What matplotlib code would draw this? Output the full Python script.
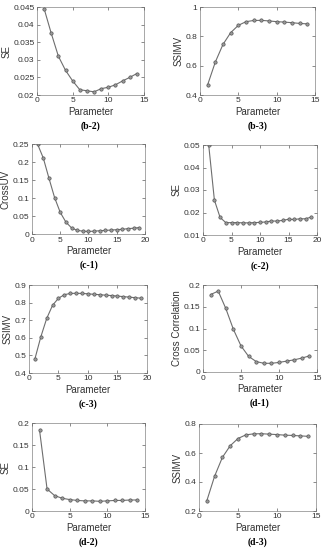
import numpy as np
import matplotlib.pyplot as plt

plt.rcParams['font.family'] = ['Liberation Sans', 'DejaVu Sans']

# values
x14 = list(range(1, 15))
x19 = list(range(1, 20))

se_b2 = [0.0445, 0.0375, 0.031, 0.027, 0.024, 0.0215, 0.0212, 0.0209,
         0.0218, 0.0222, 0.0229, 0.0240, 0.0250, 0.0261]
ssimv_b3 = [0.47, 0.625, 0.745, 0.825, 0.875, 0.900, 0.908, 0.909,
            0.905, 0.900, 0.897, 0.893, 0.888, 0.885]
crossuv_c1 = [0.249, 0.211, 0.155, 0.101, 0.060, 0.033, 0.017, 0.010, 0.008,
              0.007, 0.008, 0.009, 0.010, 0.011, 0.012, 0.013, 0.015, 0.016, 0.018]
se_c2 = [0.0500, 0.0255, 0.0178, 0.0155, 0.0155, 0.0155, 0.0154, 0.0154, 0.0155,
         0.0156, 0.0158, 0.0162, 0.0162, 0.0165, 0.0170, 0.0169, 0.0172, 0.0172, 0.0180]
ssimv_c3 = [0.48, 0.605, 0.71, 0.785, 0.825, 0.845, 0.852, 0.853, 0.852, 0.850,
            0.847, 0.845, 0.842, 0.840, 0.837, 0.834, 0.831, 0.828, 0.825]
cc_d1 = [0.178, 0.186, 0.146, 0.098, 0.060, 0.036, 0.024, 0.020,
         0.020, 0.022, 0.025, 0.028, 0.032, 0.037]
se_d2 = [0.184, 0.050, 0.035, 0.029, 0.026, 0.024, 0.023, 0.023,
         0.022, 0.023, 0.024, 0.024, 0.025, 0.025]
ssimv_d3 = [0.27, 0.44, 0.57, 0.65, 0.70, 0.725, 0.732, 0.733,
            0.730, 0.727, 0.723, 0.721, 0.718, 0.715]

W, H = 328, 550

# (x, y, ylabel, tag, xlim, xticks, ylim, yticks, yticklabels, box in px: left, top, right, bottom)
panels = [
    (x14, se_b2, 'SE', '(b-2)', (0, 15), [0, 5, 10, 15], (0.02, 0.045),
     [0.02, 0.025, 0.03, 0.035, 0.04, 0.045],
     ['0.02', '0.025', '0.03', '0.035', '0.04', '0.045'], (37, 7, 144, 95)),
    (x14, ssimv_b3, 'SSIMV', '(b-3)', (0, 15), [0, 5, 10, 15], (0.4, 1.0),
     [0.4, 0.6, 0.8, 1.0], ['0.4', '0.6', '0.8', '1'], (200, 7, 315, 95)),
    (x19, crossuv_c1, 'CrossUV', '(c-1)', (0, 20), [0, 5, 10, 15, 20], (0, 0.25),
     [0, 0.05, 0.1, 0.15, 0.2, 0.25], ['0', '0.05', '0.1', '0.15', '0.2', '0.25'],
     (32, 144, 145, 234)),
    (x19, se_c2, 'SE', '(c-2)', (0, 20), [0, 5, 10, 15, 20], (0.01, 0.05),
     [0.01, 0.02, 0.03, 0.04, 0.05], ['0.01', '0.02', '0.03', '0.04', '0.05'],
     (203, 145, 317, 235)),
    (x19, ssimv_c3, 'SSIMV', '(c-3)', (0, 20), [0, 5, 10, 15, 20], (0.4, 0.9),
     [0.4, 0.5, 0.6, 0.7, 0.8, 0.9], ['0.4', '0.5', '0.6', '0.7', '0.8', '0.9'],
     (29, 285, 147, 373)),
    (x14, cc_d1, 'Cross Correlation', '(d-1)', (0, 15), [0, 5, 10, 15], (0, 0.2),
     [0, 0.05, 0.1, 0.15, 0.2], ['0', '0.05', '0.1', '0.15', '0.2'],
     (203, 285, 317, 372)),
    (x14, se_d2, 'SE', '(d-2)', (0, 15), [0, 5, 10, 15], (0, 0.2),
     [0, 0.05, 0.1, 0.15, 0.2], ['0', '0.05', '0.1', '0.15', '0.2'],
     (32, 423, 145, 511)),
    (x14, ssimv_d3, 'SSIMV', '(d-3)', (0, 15), [0, 5, 10, 15], (0.2, 0.8),
     [0.2, 0.4, 0.6, 0.8], ['0.2', '0.4', '0.6', '0.8'], (199, 424, 316, 511)),
]

fig = plt.figure(figsize=(W / 100, H / 100), dpi=100)
fig.patch.set_facecolor('white')

for x, y, ylab, tag, xlim, xt, ylim, yt, ytl, box in panels:
    l, t, r, b = box
    ax = fig.add_axes([l / W, 1 - b / H, (r - l) / W, (b - t) / H])
    ax.plot(x, y, '-o', color='#6e6e6e', lw=0.8, ms=2.4,
            mfc='#9a9a9a', mec='#555555', mew=0.5)
    ax.set_xlim(*xlim)
    ax.set_ylim(*ylim)
    ax.set_xticks(xt)
    ax.set_yticks(yt)
    ax.set_yticklabels(ytl)
    ax.tick_params(direction='in', length=2, width=0.4, labelsize=6,
                   top=True, right=True, pad=1.8, colors='#333333')
    for s in ax.spines.values():
        s.set_linewidth(0.4)
        s.set_color('#666666')
    ax.set_xlabel('Parameter', fontsize=7, labelpad=1.5, color='#333333')
    ax.set_ylabel(ylab, fontsize=7, labelpad=1.5, color='#333333')
    cx = (l + r) / 2 / W
    fig.text(cx, 1 - (b + 31) / H, tag, ha='center', va='center',
             fontsize=7, fontweight='bold', family='Liberation Serif')

fig.savefig('out.png', dpi=100)
